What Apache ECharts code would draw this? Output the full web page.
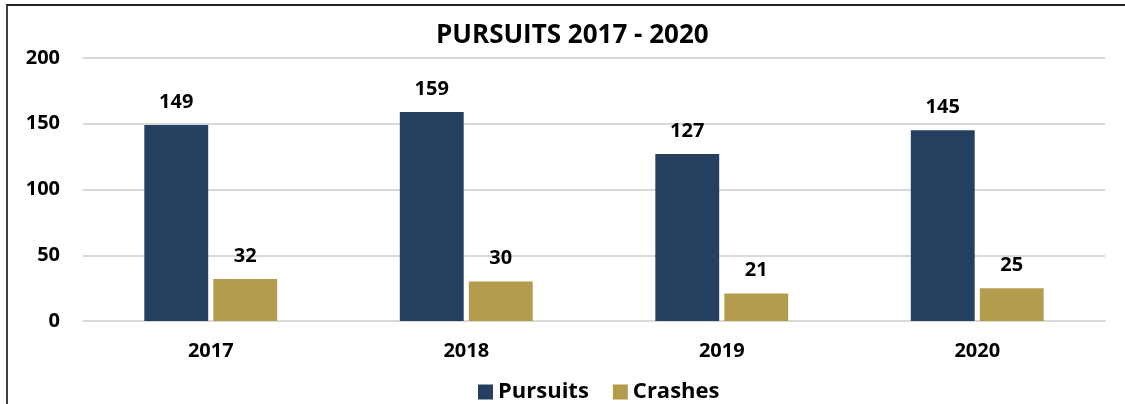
<!DOCTYPE html>
<html lang="en">
<head>
    <meta charset="UTF-8">
    <title>Pursuits 2017 - 2020</title>
    <style>
        body {
            margin: 0;
            padding: 0;
            background: #ffffff;
        }

        #chart-container {
            position: absolute;
            left: 0;
            top: 0;
            width: 1125px;
            height: 404px;
        }

        .frame {
            position: absolute;
            left: 6px;
            top: 4px;
            width: 1125px;
            height: 410px;
            border-left: 2px solid #404040;
            border-top: 2px solid #202020;
            pointer-events: none;
        }
    </style>
    <script src="https://fastly.jsdelivr.net/npm/echarts@6/dist/echarts.min.js"></script>
</head>
<body>
    <div id="chart-container"></div>
    <div class="frame"></div>

    <script>
        const years = ['2017', '2018', '2019', '2020'];
        const pursuits = [149, 159, 127, 145];
        const crashes = [32, 30, 21, 25];
        const yTicks = [0, 50, 100, 150, 200];

        const font = "'Open Sans', 'Noto Sans', sans-serif";

        var chart = echarts.init(document.getElementById('chart-container'));

        var labelStyle = {
            show: true,
            position: 'top',
            distance: 13,
            fontFamily: font,
            fontWeight: 'bold',
            fontSize: 20,
            color: '#000'
        };

        var option = {
            animation: false,
            title: {
                text: 'PURSUITS 2017 - 2020',
                left: 431,
                top: 18,
                textStyle: {
                    fontFamily: font,
                    fontWeight: 'bold',
                    fontSize: 26,
                    color: '#000'
                }
            },
            legend: {
                top: 376,
                left: 473,
                itemWidth: 15,
                itemHeight: 15,
                itemGap: 24,
                icon: 'rect',
                textStyle: {
                    fontFamily: font,
                    fontWeight: 'bold',
                    fontSize: 22,
                    color: '#000'
                },
                data: ['Pursuits', 'Crashes']
            },
            grid: {
                left: 83,
                right: 20,
                top: 58,
                bottom: 83
            },
            xAxis: {
                type: 'category',
                data: years,
                axisTick: { show: false },
                axisLine: {
                    lineStyle: { color: '#d9d9d9', width: 2 }
                },
                axisLabel: {
                    margin: 20,
                    fontFamily: font,
                    fontWeight: 'bold',
                    fontSize: 20,
                    color: '#000'
                }
            },
            yAxis: {
                type: 'value',
                min: yTicks[0],
                max: yTicks[yTicks.length - 1],
                interval: yTicks[1] - yTicks[0],
                axisLine: { show: false },
                axisTick: { show: false },
                splitLine: {
                    lineStyle: { color: '#d9d9d9', width: 2 }
                },
                axisLabel: {
                    margin: 23,
                    fontFamily: font,
                    fontWeight: 'bold',
                    fontSize: 20,
                    color: '#000'
                }
            },
            series: [
                {
                    name: 'Pursuits',
                    type: 'bar',
                    data: pursuits,
                    barWidth: '25%',
                    barGap: '8%',
                    itemStyle: { color: '#243f60' },
                    label: labelStyle
                },
                {
                    name: 'Crashes',
                    type: 'bar',
                    data: crashes,
                    barWidth: '25%',
                    itemStyle: { color: '#b39c4d' },
                    label: labelStyle
                }
            ]
        };

        chart.setOption(option);
    </script>
</body>
</html>
